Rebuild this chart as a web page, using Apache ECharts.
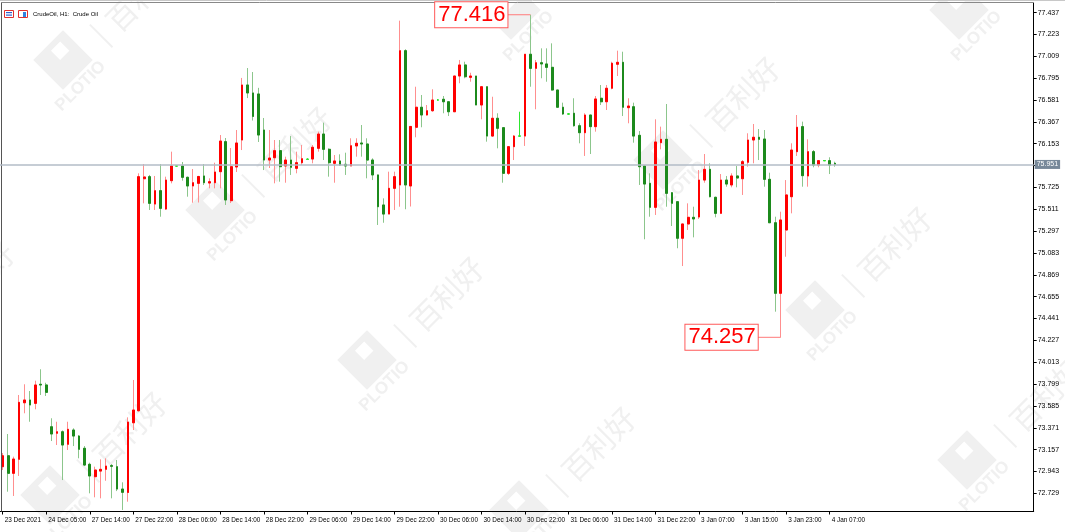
<!DOCTYPE html>
<html><head><meta charset="utf-8">
<script src="https://cdn.jsdelivr.net/npm/echarts@6/dist/echarts.min.js"></script>
<style>html,body{margin:0;padding:0;background:#fff}#c{width:1065px;height:532px}</style>
</head><body><div id="c"></div>
<script>
// ---- data (CrudeOil H1) ----
const timeLabels = ['23 Dec 2021','24 Dec 05:00','27 Dec 14:00','27 Dec 22:00','28 Dec 06:00','28 Dec 14:00','28 Dec 22:00','29 Dec 06:00','29 Dec 14:00','29 Dec 22:00','30 Dec 06:00','30 Dec 14:00','30 Dec 22:00','31 Dec 06:00','31 Dec 14:00','31 Dec 22:00','3 Jan 07:00','3 Jan 15:00','3 Jan 23:00','4 Jan 07:00'];
const opens = [72.990,73.097,72.925,73.062,73.616,73.643,73.610,73.797,73.790,73.381,73.317,73.332,73.209,73.349,73.290,73.170,73.013,72.892,72.947,72.964,73.000,72.990,72.771,72.737,73.420,73.538,75.810,75.830,75.562,75.693,75.513,75.791,75.935,75.935,75.824,75.739,75.765,75.837,75.768,75.771,75.879,76.173,75.595,75.925,76.189,76.728,76.650,76.640,76.287,75.993,76.016,76.085,75.935,75.993,75.912,75.967,76.000,76.003,76.108,76.248,76.098,75.961,75.984,75.951,75.935,76.131,76.160,76.150,75.993,75.847,75.553,75.464,75.716,75.749,77.064,75.739,76.314,76.510,76.434,76.476,76.581,76.588,76.564,76.466,76.816,76.924,76.803,76.816,76.532,76.711,76.228,76.402,76.310,75.863,76.124,76.228,76.228,77.029,76.891,76.946,76.934,76.901,76.679,76.510,76.444,76.451,76.329,76.261,76.434,76.320,76.598,76.564,76.696,76.931,76.950,76.506,76.515,76.235,75.935,75.765,75.530,76.163,76.196,75.673,75.585,75.227,75.367,75.432,75.435,75.797,75.902,75.628,75.471,75.797,75.749,75.837,75.810,75.971,76.189,76.216,76.199,75.804,75.379,74.688,75.308,75.634,76.075,76.320,75.837,76.075,75.944,75.987,75.987,75.961];
const highs = [73.124,73.310,73.088,73.692,73.797,73.731,73.832,73.944,73.812,73.464,73.430,73.345,73.430,73.366,73.300,73.192,73.029,72.990,73.062,73.072,73.016,73.055,72.837,73.473,73.839,75.863,75.954,75.847,75.837,75.954,75.830,76.075,75.940,75.974,75.830,75.905,75.838,75.954,75.814,75.967,76.238,76.209,76.111,76.287,76.797,76.894,76.855,76.700,76.405,76.287,76.189,76.189,76.026,76.228,76.075,76.140,76.010,76.140,76.271,76.359,76.108,76.042,76.049,76.065,76.206,76.206,76.336,76.206,76.010,75.850,75.618,75.879,75.879,77.358,77.078,76.322,76.711,76.630,76.532,76.686,76.590,76.620,76.564,76.816,76.973,76.956,76.848,76.816,76.711,76.711,76.613,76.451,76.310,76.124,76.238,76.466,77.029,77.416,76.973,77.087,77.087,77.136,76.679,76.555,76.450,76.598,76.353,76.451,76.434,76.620,76.728,76.728,76.956,77.064,77.054,76.598,76.555,76.277,75.935,75.863,76.392,76.320,76.542,75.680,75.585,75.367,75.569,75.536,75.895,76.052,75.961,75.634,75.856,75.837,75.863,75.935,75.993,76.255,76.346,76.297,76.287,75.869,75.438,75.487,75.797,76.157,76.434,76.369,76.196,76.091,75.987,75.990,76.020,75.977];
const lows = [72.957,72.745,72.703,72.899,73.513,73.430,73.552,73.692,73.682,73.241,73.202,72.859,73.153,73.192,73.072,72.996,72.729,72.690,72.680,72.852,72.680,72.751,72.566,72.647,73.349,73.530,75.569,75.504,75.504,75.438,75.504,75.765,75.930,75.791,75.634,75.575,75.577,75.749,75.716,75.716,75.716,75.553,75.572,75.876,76.091,76.600,76.380,76.170,75.895,75.915,75.765,75.781,75.771,75.847,75.863,75.944,75.995,75.961,76.075,75.993,75.830,75.771,75.935,75.847,75.935,76.026,76.026,75.814,75.797,75.357,75.379,75.464,75.504,75.536,75.511,75.538,76.216,76.314,76.429,76.466,76.575,76.451,76.424,76.466,76.745,76.794,76.760,76.532,76.392,76.173,76.222,76.108,75.771,75.847,75.993,76.222,76.131,76.711,76.490,76.794,76.760,76.672,76.510,76.434,76.440,76.320,76.157,76.033,76.052,76.271,76.532,76.483,76.686,76.816,76.424,76.353,76.163,75.749,75.217,75.438,75.455,76.098,75.536,75.347,75.129,74.955,75.308,75.236,75.416,75.771,75.628,75.432,75.464,75.732,75.726,75.726,75.651,75.928,75.961,75.993,75.732,75.379,74.508,74.257,75.046,75.471,76.033,75.732,75.732,75.922,75.922,75.985,75.856,75.928];
const closes = [73.097,72.925,73.065,73.620,73.643,73.594,73.790,73.790,73.718,73.310,73.332,73.202,73.356,73.290,73.160,73.006,72.899,72.957,72.964,72.996,72.994,72.771,72.739,73.427,73.545,75.830,75.827,75.569,75.693,75.520,75.797,75.935,75.935,75.824,75.739,75.771,75.832,75.771,75.781,75.876,76.179,75.602,75.928,76.160,76.728,76.650,76.420,76.238,75.993,76.013,76.085,75.928,75.993,75.922,75.967,76.006,76.000,76.118,76.248,76.098,75.967,75.984,75.944,75.935,76.133,76.157,76.150,75.993,75.847,75.536,75.464,75.716,75.830,77.064,75.749,76.322,76.510,76.434,76.476,76.581,76.581,76.564,76.466,76.816,76.924,76.809,76.816,76.532,76.711,76.228,76.402,76.304,75.863,76.124,76.228,76.228,77.029,76.891,76.946,76.934,76.901,76.679,76.510,76.444,76.444,76.329,76.261,76.434,76.320,76.591,76.564,76.696,76.941,76.950,76.510,76.522,76.228,75.928,75.758,75.530,76.170,76.196,75.667,75.569,75.227,75.367,75.432,75.416,75.797,75.902,75.634,75.471,75.797,75.758,75.837,75.817,75.977,76.189,76.216,76.196,75.804,75.379,74.688,75.406,75.651,76.091,76.314,75.840,76.075,75.944,75.987,75.987,75.944,75.951];
const yTicks = [72.729,72.943,73.157,73.371,73.585,73.799,74.013,74.227,74.441,74.655,74.869,75.083,75.297,75.511,75.725,75.939,76.153,76.367,76.581,76.795,77.009,77.223,77.437];
const yMin = 72.551, yMax = 77.531;
const bidLabel = '75.951';
const titleText = 'CrudeOil, H1:  Crude Oil';
const annotFrom = 26; // high/low labels mark extremes of bars from this index on

// ---- styles ----
const RED = '#ff0000', GREEN = '#1c8a1c', LIME = '#2ee62e';
const RED_W = '#ff8f8f', GREEN_W = '#8cc68c';
const FONT = '"Liberation Sans",Arial,sans-serif';
const SLOTS = 190, PITCH = 5.448;

const cats = Array.from({length: SLOTS}, (_, i) => String(i));
const isDoji = i => opens[i] === closes[i];
const dojiStyle = {color: LIME, color0: LIME, borderColor: LIME, borderColor0: LIME};

const wickData = opens.map((o, i) => {
  const v = [o, closes[i], lows[i], highs[i]];
  return isDoji(i) ? {value: v, itemStyle: dojiStyle} : v;
});
const bodyData = opens.map((o, i) => {
  const c = closes[i];
  const v = [o, c, Math.min(o, c), Math.max(o, c)];
  return isDoji(i) ? {value: v, itemStyle: dojiStyle} : v;
});

const hiSlice = highs.slice(annotFrom), loSlice = lows.slice(annotFrom);
const hiVal = Math.max(...hiSlice), hiIdx = annotFrom + hiSlice.indexOf(hiVal);
const loVal = Math.min(...loSlice), loIdx = annotFrom + loSlice.indexOf(loVal);

const annLabel = {
  show: true, position: 'left', distance: 0,
  color: RED, fontSize: 22, fontFamily: FONT, lineHeight: 24,
  backgroundColor: '#fff', borderColor: '#ff5a5a', borderWidth: 1, padding: [1, 2, 0, 3]
};

function wm(cx, cy) {
  const C = '#f0f0f0';
  return {type: 'group', x: cx, y: cy, rotation: Math.PI / 4, silent: true, z: 0, children: [
    {type: 'rect', shape: {x: -21, y: -21, width: 42, height: 42}, style: {fill: C}},
    {type: 'rect', shape: {x: -2, y: -15, width: 13, height: 13}, style: {fill: '#fff'}},
    {type: 'text', x: -6, y: 31, style: {text: 'PLOTIO', fill: C, font: 'bold 17px "Liberation Sans"', textAlign: 'center', textVerticalAlign: 'middle', align: 'center', verticalAlign: 'middle'}},
    {type: 'line', shape: {x1: 44, y1: -6, x2: 44, y2: 26}, style: {stroke: C, lineWidth: 2}},
    {type: 'text', x: 58, y: 10, style: {text: '百利好', fill: C, font: '30px "Noto Sans CJK SC"', textAlign: 'left', textVerticalAlign: 'middle', align: 'left', verticalAlign: 'middle'}}
  ]};
}
const wmSpots = [[63,60],[215,210],[367,360],[519,510],[511,10],[663,160],[815,310],[967,460],[-102,345],[50,495],[959,10]];

const chart = echarts.init(document.getElementById('c'), null, {renderer: 'canvas'});
chart.setOption({
  animation: false,
  backgroundColor: '#fff',
  grid: {left: 1.3 - PITCH / 2, top: 3, width: SLOTS * PITCH, height: 508.5},
  xAxis: {
    type: 'category', data: cats, boundaryGap: true,
    axisLine: {lineStyle: {color: '#000', width: 1}},
    axisTick: {show: true, alignWithLabel: true, length: 3, lineStyle: {color: '#000'},
      interval: (i) => i % 8 === 0 && i / 8 < timeLabels.length},
    axisLabel: {interval: (i) => i % 8 === 0 && i / 8 < timeLabels.length,
      formatter: (v, i) => timeLabels[i / 8] || '', align: 'left', margin: 6, padding: [0, 0, 0, 2],
      fontSize: 6.4, fontFamily: FONT, color: '#000'},
    splitLine: {show: false}
  },
  yAxis: {
    type: 'value', position: 'right', min: yMin, max: yMax,
    axisLine: {show: true, onZero: false, lineStyle: {color: '#000', width: 1}},
    axisTick: {show: true, length: 3, lineStyle: {color: '#000'}, customValues: yTicks},
    axisLabel: {customValues: yTicks, formatter: v => v.toFixed(3), margin: 4,
      fontSize: 7, fontFamily: FONT, color: '#000'},
    splitLine: {show: false}
  },
  series: [
    {
      type: 'candlestick', data: wickData, barWidth: 2.2, silent: true, z: 2,
      itemStyle: {color: 'rgba(0,0,0,0)', color0: 'rgba(0,0,0,0)', borderColor: RED_W, borderColor0: GREEN_W, borderWidth: 1}
    },
    {
      type: 'candlestick', data: bodyData, barWidth: 2.2, silent: true, z: 3,
      itemStyle: {color: RED, color0: GREEN, borderColor: RED, borderColor0: GREEN, borderWidth: 1},
      markLine: {
        silent: true, symbol: ['none', 'none'],
        lineStyle: {color: '#b3bcc7', width: 1.5, type: 'solid'},
        label: {show: true, position: 'end', distance: 1, formatter: bidLabel, backgroundColor: '#778899',
          color: '#fff', fontSize: 7, fontFamily: FONT, padding: [1, 2, 1, 2]},
        data: [{yAxis: closes[closes.length - 1]}]
      },
      markPoint: {
        silent: true, symbol: 'rect', symbolSize: [23, 1], symbolOffset: [-11.5, 0],
        itemStyle: {color: '#ff7a7a'},
        data: [
          {coord: [hiIdx, hiVal], label: Object.assign({}, annLabel, {formatter: hiVal.toFixed(3)})},
          {coord: [loIdx, loVal], label: Object.assign({}, annLabel, {formatter: loVal.toFixed(3)})}
        ]
      }
    }
  ],
  graphic: [
    ...wmSpots.map(p => wm(p[0], p[1])),
    {type: 'line', silent: true, z: 5, shape: {x1: 1.5, y1: 3, x2: 1.5, y2: 511.5}, style: {stroke: '#555', lineWidth: 1}},
    {type: 'line', silent: true, z: 5, shape: {x1: 1, y1: 2.5, x2: 1034, y2: 2.5}, style: {stroke: '#888', lineWidth: 1}},
    {type: 'line', silent: true, z: 5, shape: {x1: 0, y1: 0.5, x2: 1065, y2: 0.5}, style: {stroke: '#c8c8c8', lineWidth: 1}},
    {type: 'rect', silent: true, z: 5, shape: {x: 4.5, y: 10.5, width: 9, height: 7}, style: {fill: '#fff', stroke: '#e03030', lineWidth: 1}},
    {type: 'rect', silent: true, z: 5, shape: {x: 6, y: 12, width: 6, height: 1.2}, style: {fill: '#3060d0'}},
    {type: 'rect', silent: true, z: 5, shape: {x: 6, y: 14.5, width: 6, height: 1.2}, style: {fill: '#3060d0'}},
    {type: 'rect', silent: true, z: 5, shape: {x: 18.5, y: 10.5, width: 9, height: 7}, style: {fill: '#fff', stroke: '#e03030', lineWidth: 1}},
    {type: 'rect', silent: true, z: 5, shape: {x: 23, y: 12, width: 3, height: 5}, style: {fill: '#3080e0'}},
    {type: 'text', silent: true, z: 5, x: 33, y: 14, style: {text: titleText, fill: '#000', font: '6px ' + FONT, textVerticalAlign: 'middle', verticalAlign: 'middle'}}
  ]
});
</script>
</body></html>
